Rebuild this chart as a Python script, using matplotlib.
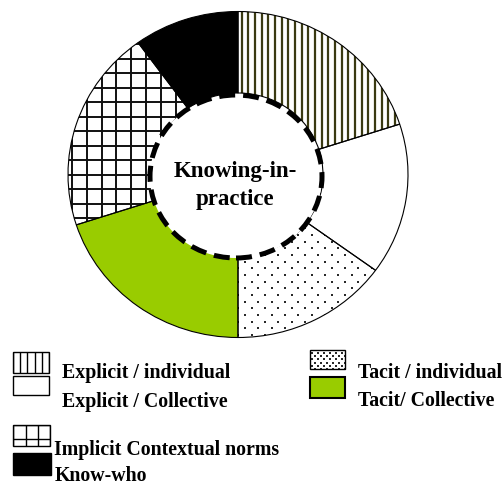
import numpy as np
import matplotlib
matplotlib.use("Agg")
import matplotlib.pyplot as plt
from matplotlib.patches import Rectangle, Ellipse
from matplotlib.collections import LineCollection

# ---- data ----
categories = ["Explicit / individual", "Explicit / Collective", "Tacit / individual",
              "Tacit/ Collective", "Implicit Contextual norms", "Know-who"]
shares = [20, 15, 15, 20, 20, 10]
center_label = ["Knowing-in-", "practice"]

W, H = 503, 486
FONT = "Liberation Serif"
fig = plt.figure(figsize=(W / 100, H / 100), dpi=100)
fig.patch.set_facecolor("white")

# pie axes (slightly elliptical, like the reference)
cx, cy, rx, ry = 238.0, 174.5, 170.0, 163.0
ax = fig.add_axes([(cx - rx) / W, (H - (cy + ry)) / H, 2 * rx / W, 2 * ry / H])
# overlay axes in image-pixel coordinates (y downwards)
pix = fig.add_axes([0, 0, 1, 1])
pix.set_xlim(0, W)
pix.set_ylim(H, 0)
pix.axis("off")

fills = ["white", "white", "white", "#99cc00", "white", "black"]
wedges, _ = ax.pie(shares, startangle=90, counterclock=False, colors=fills,
                   wedgeprops=dict(width=0.5, linewidth=0), radius=1.0)
for w in wedges:
    w.set_zorder(1)
edges, _ = ax.pie(shares, startangle=90, counterclock=False,
                  wedgeprops=dict(width=0.5, facecolor="none", edgecolor="black",
                                  linewidth=0.8), radius=1.0)
for w in edges:
    w.set_zorder(3)
ax.set_aspect("auto")
ax.set_xlim(-1, 1)
ax.set_ylim(-1, 1)
ax.axis("off")


def vlines(x0, step, xa, xb, ya, yb):
    xs = np.arange(x0 - step * np.ceil((x0 - xa) / step), xb + step, step)
    return [[(x, ya), (x, yb)] for x in xs]


def hlines(y0, step, ya, yb, xa, xb):
    ys = np.arange(y0 - step * np.ceil((y0 - ya) / step), yb + step, step)
    return [[(xa, y), (xb, y)] for y in ys]


def dots(x0, y0, dx, dy, xa, xb, ya, yb):
    pts = []
    ys = np.arange(y0 - dy * np.ceil((y0 - ya) / dy), yb + dy, dy)
    for y in ys:
        k = int(round((y - y0) / dy))
        off = (dx / 2) if k % 2 else 0.0
        xs = np.arange(x0 + off - dx * np.ceil((x0 + off - xa) / dx), xb + dx, dx)
        pts += [(x, y) for x in xs]
    return np.array(pts)


def add_lines(target_ax, segs, clip, color, lw, z):
    lc = LineCollection(segs, colors=color, linewidths=lw, transform=pix.transData,
                        zorder=z)
    target_ax.add_collection(lc, autolim=False)
    lc.set_clip_path(clip)


def add_dots(target_ax, pts, clip, z, s=3.6):
    sc = target_ax.scatter(pts[:, 0], pts[:, 1], s=s, c="#2a2a2a", marker="s",
                           linewidths=0, transform=pix.transData, zorder=z)
    sc.set_clip_path(clip)


# slice patterns
add_lines(ax, vlines(241.7, 6.67, 220, 420, 0, 220), wedges[0], "#3a3a12", 1.6, 2)
add_dots(ax, dots(251.7, 255.0, 13.33, 6.67, 220, 400, 140, 350), wedges[2], 2)
grid = vlines(101.7, 14.8, 50, 260, 0, 260) + hlines(73.3, 14.5, 0, 260, 50, 260)
add_lines(ax, grid, wedges[4], "#111111", 1.4, 2)

# inner dashed hole with centre label
hole = Ellipse((-2 / rx, -2 / ry), 172 / rx, 163 / ry, facecolor="white",
               edgecolor="black", linewidth=3.6, zorder=4)
hole.set_linestyle((0, (3.2, 1.6)))
ax.add_patch(hole)
ax.text(-3 / rx, -2.2 / ry, center_label[0], ha="center", va="baseline",
        fontsize=16.5, fontweight="bold", family=FONT, zorder=5)
ax.text(-3 / rx, -30.5 / ry, center_label[1], ha="center", va="baseline",
        fontsize=16.5, fontweight="bold", family=FONT, zorder=5)

# legend (image-pixel coordinates)
boxes = [(12.7, 352.3, 36.6, 21.0), (12.7, 375.7, 36.6, 19.3),
         (310.0, 350.0, 35.0, 19.0), (310.0, 376.7, 35.0, 21.6),
         (13.3, 425.0, 36.7, 21.0), (13.3, 453.0, 37.4, 22.0)]
text_pos = [(62, 378.3), (62, 406.7), (358.3, 377.7), (358.3, 406.0),
            (54, 454.5), (55, 481.3)]
box_lw = [1.0, 1.0, 1.0, 1.5, 1.0, 1.0]
rects = []
for i, (bx, by, bw, bh) in enumerate(boxes):
    pix.add_patch(Rectangle((bx, by), bw, bh, facecolor=fills[i], edgecolor="none",
                            zorder=2.5))
    r = Rectangle((bx, by), bw, bh, facecolor="none", edgecolor="black",
                  linewidth=box_lw[i], zorder=3.8)
    pix.add_patch(r)
    rects.append(r)
    tx, ty = text_pos[i]
    pix.text(tx, ty, categories[i], ha="left", va="baseline", fontsize=14.3,
             fontweight="bold", family=FONT, zorder=4)

b = boxes[0]
add_lines(pix, vlines(b[0], 7.32, b[0], b[0] + b[2], b[1], b[1] + b[3]), rects[0],
          "black", 1.0, 3.5)
b = boxes[2]
add_dots(pix, dots(b[0] + 2, b[1] + 2.5, 6.0, 3.4, b[0], b[0] + b[2], b[1], b[1] + b[3]),
         rects[2], 3.5, s=2.0)
b = boxes[4]
add_lines(pix, vlines(b[0], 12.23, b[0], b[0] + b[2], b[1], b[1] + b[3])
          + hlines(b[1] + 14, 14, b[1], b[1] + b[3], b[0], b[0] + b[2]),
          rects[4], "black", 1.0, 3.5)

fig.savefig("out.png", dpi=100, facecolor="white")
